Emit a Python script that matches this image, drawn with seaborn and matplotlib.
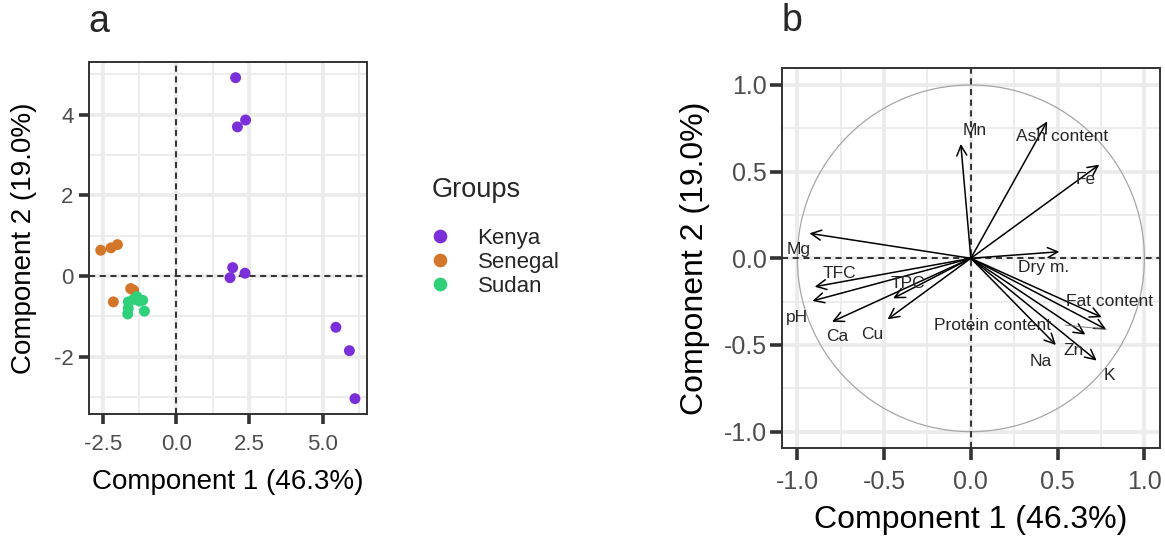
import numpy as np
import pandas as pd
import matplotlib
matplotlib.use("Agg")
import matplotlib.pyplot as plt
from matplotlib.patches import Circle
from matplotlib.ticker import MultipleLocator
import seaborn as sns

# ---------------- data ----------------
groups = ["Kenya", "Senegal", "Sudan"]
group_colors = ["#7B2FDA", "#D4762A", "#2ED07A"]

kenya_pc1 = [2.03, 2.37, 2.09, 1.93, 1.84, 2.35, 5.45, 5.91, 6.10]
kenya_pc2 = [4.92, 3.87, 3.70, 0.21, -0.04, 0.07, -1.27, -1.85, -3.04]
senegal_pc1 = [-2.57, -2.22, -2.00, -1.55, -1.45, -2.14]
senegal_pc2 = [0.64, 0.70, 0.78, -0.31, -0.35, -0.64]
sudan_pc1 = [-1.63, -1.34, -1.14, -1.63, -1.65, -1.08, -1.45, -1.25]
sudan_pc2 = [-0.64, -0.51, -0.60, -0.80, -0.94, -0.87, -0.58, -0.62]

variables = ["Mn", "Ash content", "Fe", "Mg", "Dry m.", "TFC", "pH", "TPC",
             "Ca", "Cu", "Fat content", "Protein content", "Zn", "Na", "K"]
load_pc1 = [-0.058, 0.44, 0.74, -0.93, 0.51, -0.90, -0.913, -0.448,
            -0.80, -0.48, 0.754, 0.78, 0.66, 0.49, 0.725]
load_pc2 = [0.66, 0.79, 0.54, 0.144, 0.038, -0.164, -0.246, -0.231,
            -0.366, -0.352, -0.34, -0.41, -0.44, -0.50, -0.59]
label_pc1 = [0.023, 0.523, 0.66, -0.99, 0.417, -0.756, -1.0, -0.36,
             -0.77, -0.567, 0.80, 0.123, 0.59, 0.40, 0.80]
label_pc2 = [0.74, 0.70, 0.456, 0.048, -0.052, -0.087, -0.34, -0.144,
             -0.452, -0.442, -0.25, -0.385, -0.53, -0.597, -0.677]

xlab = "Component 1 (46.3%)"
ylab = "Component 2 (19.0%)"

# ---------------- style ----------------
sns.set_theme(style="white")
plt.rcParams["font.family"] = ["Liberation Sans", "DejaVu Sans"]
plt.rcParams["axes.unicode_minus"] = False

scores = pd.DataFrame({
    "pc1": kenya_pc1 + senegal_pc1 + sudan_pc1,
    "pc2": kenya_pc2 + senegal_pc2 + sudan_pc2,
    "Groups": ["Kenya"] * len(kenya_pc1) + ["Senegal"] * len(senegal_pc1) + ["Sudan"] * len(sudan_pc1),
})
loads = pd.DataFrame({"name": variables, "pc1": load_pc1, "pc2": load_pc2,
                      "lx": label_pc1, "ly": label_pc2})

fig = plt.figure(figsize=(11.65, 5.37), dpi=100)
ax_a = fig.add_axes([0.0764, 0.2291, 0.2386, 0.6555])
ax_b = fig.add_axes([0.6710, 0.1652, 0.3247, 0.7076])

GRID = "#EBEBEB"
FRAME = "#333333"
TICKC = "#4D4D4D"


def style_axes(ax, xmaj, ymaj, xmin, ymin, tick_fs, lab_fs, tlen, xpad, ypad,
               xlpad, ylpad):
    ax.xaxis.set_major_locator(MultipleLocator(xmaj))
    ax.yaxis.set_major_locator(MultipleLocator(ymaj))
    ax.xaxis.set_minor_locator(MultipleLocator(xmin))
    ax.yaxis.set_minor_locator(MultipleLocator(ymin))
    ax.grid(True, which="major", color=GRID, lw=2.6, zorder=0)
    ax.grid(True, which="minor", color=GRID, lw=1.3, zorder=0)
    ax.set_axisbelow(True)
    for s in ax.spines.values():
        s.set_color(FRAME)
        s.set_linewidth(1.4)
        s.set_visible(True)
    ax.tick_params(which="major", direction="out", length=tlen, width=2.6,
                   color=FRAME, labelsize=tick_fs, labelcolor=TICKC,
                   bottom=True, left=True)
    ax.tick_params(axis="x", pad=xpad)
    ax.tick_params(axis="y", pad=ypad)
    ax.tick_params(which="minor", length=0)
    ax.set_xlabel(xlab, fontsize=lab_fs, color="black", labelpad=xlpad)
    ax.set_ylabel(ylab, fontsize=lab_fs, color="black", labelpad=ylpad)


# ---------------- panel a ----------------
sns.scatterplot(data=scores, x="pc1", y="pc2", hue="Groups", hue_order=groups,
                palette=group_colors, s=62, linewidth=0, ax=ax_a, zorder=3)
ax_a.axhline(0, color="black", ls=(0, (4, 3)), lw=1.1, zorder=2)
ax_a.axvline(0, color="black", ls=(0, (4, 3)), lw=1.1, zorder=2)
style_axes(ax_a, 2.5, 2, 1.25, 1, 16, 20, tlen=7.2, xpad=7, ypad=4,
           xlpad=10, ylpad=12)
ax_a.set_xticks([-2.5, 0.0, 2.5, 5.0])
ax_a.set_xticklabels(["-2.5", "0.0", "2.5", "5.0"])
ax_a.set_xlim(-2.97, 6.51)
ax_a.set_ylim(-3.42, 5.31)

handles, labels = ax_a.get_legend_handles_labels()
leg = ax_a.legend(handles, labels, frameon=False, loc="upper left",
                  bbox_to_anchor=(0.368, 0.575), bbox_transform=fig.transFigure,
                  fontsize=16, markerscale=1.25, handlelength=1.0,
                  handletextpad=1.2, labelspacing=0.12, borderaxespad=0,
                  borderpad=0)
fig.text(432 / 1165, 1 - 190 / 537, "Groups", fontsize=19.5, ha="left", va="center")

fig.text(0.0755, 0.992, "a", fontsize=27, va="top", ha="left")

# ---------------- panel b ----------------
circ = Circle((0, 0), 1.0, fill=False, color="#A6A6A6", lw=0.9, zorder=2)
ax_b.add_patch(circ)
ax_b.axhline(0, color="black", ls=(0, (4, 3)), lw=1.1, zorder=2)
ax_b.axvline(0, color="black", ls=(0, (4, 3)), lw=1.1, zorder=2)
for _, r in loads.iterrows():
    ax_b.annotate("", xy=(r["pc1"], r["pc2"]), xytext=(0, 0),
                  arrowprops=dict(arrowstyle="->,head_length=0.6,head_width=0.3",
                                  color="black", lw=1.1, shrinkA=0, shrinkB=0),
                  zorder=3)
    ax_b.text(r["lx"], r["ly"], r["name"], fontsize=12.5, ha="center",
              va="center", zorder=4)
# repel leader line for Protein content
pi = variables.index("Protein content")
ax_b.plot([label_pc1[pi] + 0.42, load_pc1[pi]], [label_pc2[pi], load_pc2[pi]],
          color="#666666", lw=0.6, zorder=3)
style_axes(ax_b, 0.5, 0.5, 0.25, 0.25, 18, 23, tlen=8.5, xpad=7, ypad=2,
           xlpad=8, ylpad=10)
ax_b.set_xticks([-1.0, -0.5, 0.0, 0.5, 1.0])
ax_b.set_yticks([-1.0, -0.5, 0.0, 0.5, 1.0])
ax_b.set_xlim(-1.09, 1.09)
ax_b.set_ylim(-1.096, 1.096)

fig.text(0.671, 0.995, "b", fontsize=27, va="top", ha="left")

fig.savefig("out.png", dpi=100)
